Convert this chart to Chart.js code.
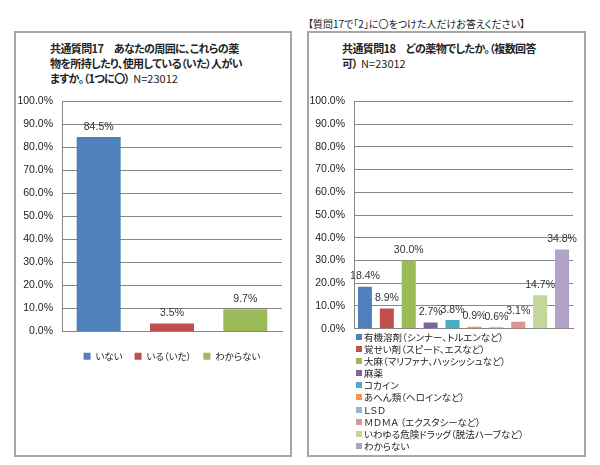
<!DOCTYPE html>
<html>
<head>
<meta charset="utf-8">
<script src="https://cdn.jsdelivr.net/npm/chart.js@4.4.0/dist/chart.umd.min.js"></script>
<style>
  body { margin: 0; width: 600px; height: 465px; background: #fff; position: relative; font-family: "Noto Sans CJK JP", sans-serif; color: #222; font-feature-settings: "palt"; }
  .panel { position: absolute; top: 31px; height: 422px; border: 2px solid #a6a6a6; box-sizing: content-box; }
  .title { position: absolute; font-weight: bold; font-size: 11px; line-height: 15px; letter-spacing: -0.6px; white-space: nowrap; }
  .title span { font-weight: normal; letter-spacing: 0; }
  .note { position: absolute; left: 308px; top: 16px; font-size: 10px; white-space: nowrap; }
  .box { position: absolute; }
  #legend18 { position: absolute; left: 356px; top: 331px; font-size: 9.5px; line-height: 12.1px; }
  #legend18 span.sw { display: inline-block; width: 6px; height: 6px; margin-right: 2px; vertical-align: 1px; }
</style>
</head>
<body>
<div class="panel" style="left:14px;width:274px"></div>
<div class="panel" style="left:307px;width:275px"></div>
<div class="note">【質問17で「2」に〇をつけた人だけお答えください】</div>
<div class="title" style="left:50px;top:41px">共通質問17　あなたの周囲に、これらの薬<br>物を所持したり、使用している（いた）人がい<br>ますか。（1つに〇）&nbsp; <span>N=23012</span></div>
<div class="title" style="left:342px;top:41px">共通質問18　どの薬物でしたか。（複数回答<br>可）&nbsp; <span>N=23012</span></div>
<div class="box" style="left:16px;top:86px;width:272px;height:285px"><canvas id="c17"></canvas></div>
<div class="box" style="left:309px;top:86px;width:270px;height:258px"><canvas id="c18"></canvas></div>
<div id="legend18"></div>
<script>
// 質問17
const q17Labels = ["いない", "いる（いた）", "わからない"];
const q17Values = [84.5, 3.5, 9.7];
const q17Colors = ["#4F81BD", "#C0504D", "#9BBB59"];

// 質問18
const q18Labels = [
  "有機溶剤（シンナー、トルエンなど）",
  "覚せい剤（スピード、エスなど）",
  "大麻（マリファナ、ハッシッシュなど）",
  "麻薬",
  "コカイン",
  "あへん類（ヘロインなど）",
  "ＬＳＤ",
  "ＭＤＭＡ （エクスタシーなど）",
  "いわゆる危険ドラッグ（脱法ハーブなど）",
  "わからない"
];
const q18Values = [18.4, 8.9, 30.0, 2.7, 3.8, 0.9, 0.6, 3.1, 14.7, 34.8];
const q18Colors = ["#4F81BD", "#C0504D", "#9BBB59", "#8064A2", "#4BACC6", "#F79646", "#95B3D7", "#D99694", "#C3D69B", "#B3A2C7"];

const yMin = 0, yMax = 100, yStep = 10;
const numFont = "'Liberation Sans', 'Noto Sans CJK JP', sans-serif";

// one dataset per category so each gets its own legend entry
function makeDatasets(labels, values, colors) {
  return labels.map((l, i) => ({
    label: l,
    data: values.map((v, j) => (j === i ? v : null)),
    backgroundColor: colors[i]
  }));
}

const valueLabels = {
  id: "valueLabels",
  afterDatasetsDraw(chart) {
    const ctx = chart.ctx;
    ctx.save();
    ctx.font = "10.5px " + numFont;
    ctx.fillStyle = "#333";
    ctx.textAlign = "center";
    ctx.textBaseline = "bottom";
    chart.data.datasets.forEach((ds, i) => {
      chart.getDatasetMeta(i).data.forEach((bar, j) => {
        const v = ds.data[j];
        if (v == null) return;
        ctx.fillText(v.toFixed(1) + "%", bar.x, bar.y - 5);
      });
    });
    ctx.restore();
  }
};

function makeOptions(axisWidth, barPct, padTop, showLegend) {
  return {
    responsive: true,
    maintainAspectRatio: false,
    animation: false,
    layout: { padding: { top: padTop, right: 6, bottom: 0, left: 0 } },
    datasets: { bar: { skipNull: true, categoryPercentage: 1, barPercentage: barPct } },
    scales: {
      x: {
        ticks: { display: false },
        grid: { display: false },
        border: { color: "#868686" }
      },
      y: {
        min: yMin,
        max: yMax,
        ticks: {
          stepSize: yStep,
          padding: 9,
          color: "#222",
          font: { family: numFont, size: 10.5 },
          callback: v => v.toFixed(1) + "%"
        },
        grid: { color: "#868686", drawTicks: false },
        border: { color: "#868686" },
        afterFit(scale) { scale.width = axisWidth; }
      }
    },
    plugins: {
      legend: {
        display: showLegend,
        position: "bottom",
        fullSize: false, // center under the plot, like the original
        labels: {
          boxWidth: 7,
          boxHeight: 7,
          padding: 12,
          color: "#222",
          font: { family: "'Noto Sans CJK JP', sans-serif", size: 9.5 }
        }
      },
      tooltip: { enabled: false }
    }
  };
}

const chart17 = new Chart(document.getElementById("c17"), {
  type: "bar",
  data: { labels: q17Labels, datasets: makeDatasets(q17Labels, q17Values, q17Colors) },
  options: makeOptions(46, 0.6, 11, true),
  plugins: [valueLabels]
});

const chart18 = new Chart(document.getElementById("c18"), {
  type: "bar",
  data: { labels: q18Labels, datasets: makeDatasets(q18Labels, q18Values, q18Colors) },
  options: makeOptions(45, 0.64, 10, false),
  plugins: [valueLabels]
});

// vertical list legend for 質問18, built from the chart's own legend items
const legendBox = document.getElementById("legend18");
chart18.options.plugins.legend.labels.generateLabels(chart18).forEach(item => {
  const row = document.createElement("div");
  const sw = document.createElement("span");
  sw.className = "sw";
  sw.style.background = item.fillStyle;
  row.appendChild(sw);
  row.appendChild(document.createTextNode(item.text));
  legendBox.appendChild(row);
});
</script>
</body>
</html>
